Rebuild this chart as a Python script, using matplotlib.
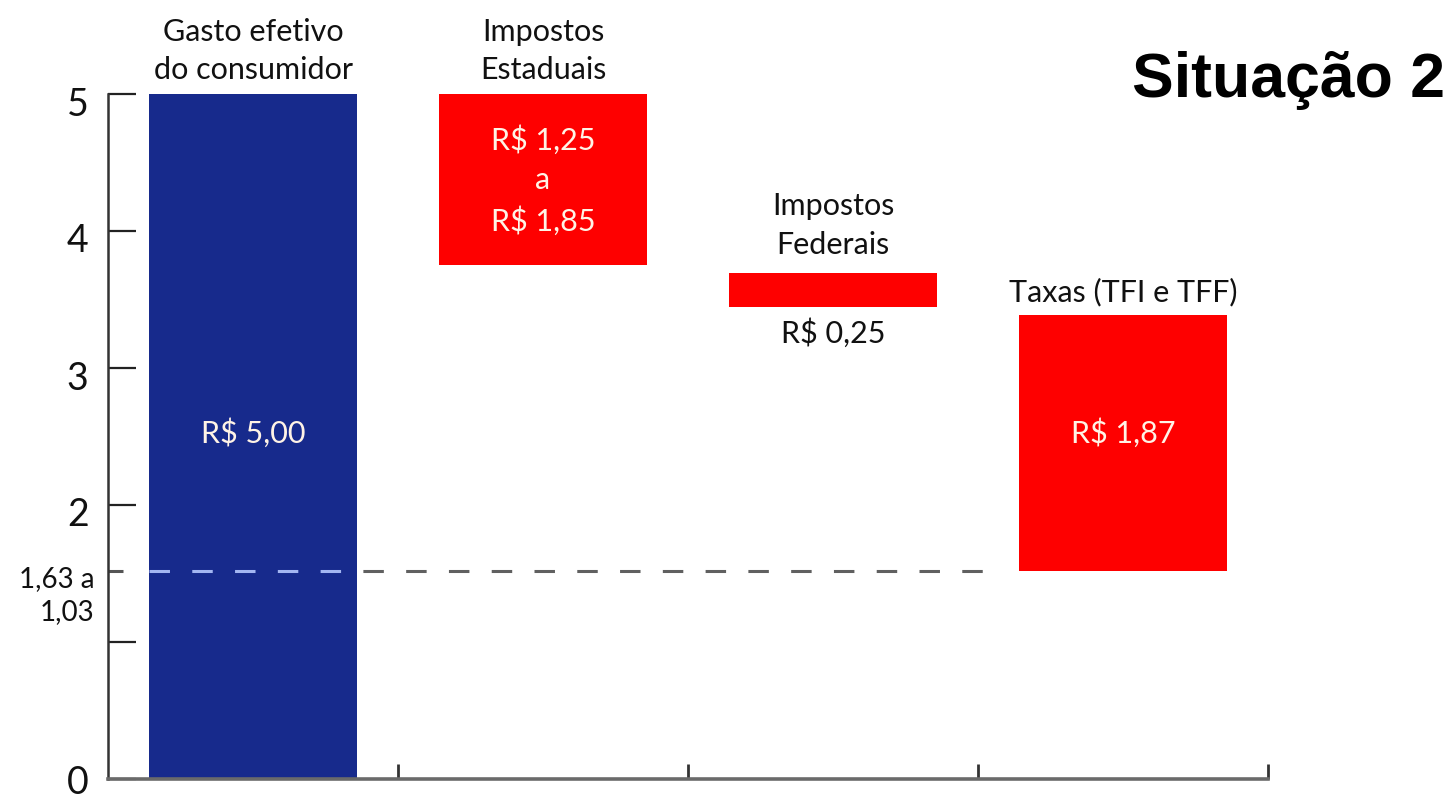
"""
Situação 2 — composição do gasto efetivo do consumidor (cascata).
Saída: out.png
"""

import numpy as np
import matplotlib.pyplot as plt
import matplotlib.transforms as mtransforms

# ── Dados ─────────────────────────────────────────────────────────────────────
CATEGORIAS = ["Gasto efetivo\ndo consumidor", "Impostos\nEstaduais",
              "Impostos\nFederais", "Taxas (TFI e TFF)"]
VALORES    = [5.00, 1.25, 0.25, 1.87]
ROTULOS    = ["R$ 5,00", "R$ 1,25\na\nR$ 1,85", "R$ 0,25", "R$ 1,87"]
Y_TICKS    = [0, 1, 2, 3, 4, 5]
Y_LABELS   = ["0", "", "2", "3", "4", "5"]
RESTO_LABEL = "1,63 a\n1,03"
TITULO     = "Situação 2"

# ── Estilo ────────────────────────────────────────────────────────────────────
AZUL     = "#172a8c"
VERMELHO = "#fe0000"
GAP      = 0.055        # folga visual entre degraus da cascata
LARGURA  = 0.72
FONTE    = "Lato"


def main():
    fig = plt.figure(figsize=(14.54, 8.03), dpi=100)
    ax = fig.add_axes([108 / 1454, 23 / 803, 1160 / 1454, 685 / 803])

    x = np.arange(len(VALORES))

    # topos e bases da cascata
    topos, bases = [], []
    nivel = VALORES[0]
    topos.append(VALORES[0]); bases.append(0.0)
    for i, v in enumerate(VALORES[1:]):
        topo = nivel if i == 0 else nivel - GAP
        topos.append(topo); bases.append(topo - v)
        nivel = topo - v
    alturas = np.array(topos) - np.array(bases)
    cores = [AZUL] + [VERMELHO] * (len(VALORES) - 1)

    barras = ax.bar(x, alturas, bottom=bases, width=LARGURA, color=cores,
                    edgecolor="none", zorder=2)

    resto = bases[-1]

    # linha tracejada do valor restante (clara sobre a barra azul)
    dash = (0, (6.7, 7.3))
    x0, x1 = x[0] - LARGURA / 2, x[-1] - LARGURA / 2 - 0.06
    ax.plot([x0, x1], [resto, resto], color="#606060", lw=2.2,
            linestyle=dash, zorder=1)
    claro, = ax.plot([x0, x1], [resto, resto], color="#a3b6f2", lw=2.2,
                     linestyle=dash, zorder=3)
    claro.set_clip_path(barras.patches[0])

    # rótulos das categorias
    txt = dict(family=FONTE, fontsize=22, color="#111111", ha="center",
               linespacing=1.45)
    ax.text(x[0], 5.0 + 0.08, CATEGORIAS[0], va="bottom", **txt,
            clip_on=False)
    ax.text(x[1], 5.0 + 0.08, CATEGORIAS[1], va="bottom", **txt,
            clip_on=False)
    ax.text(x[2], topos[2] + 0.11, CATEGORIAS[2], va="bottom", **txt)
    ax.text(x[3], topos[3] + 0.07, CATEGORIAS[3], va="bottom", **txt)
    ax.text(x[2], bases[2] - 0.07, ROTULOS[2], va="top", **txt)

    # rótulos dentro das barras
    dentro = dict(family=FONTE, fontsize=22, color="#fff3e6", ha="center",
                  va="center", linespacing=1.5, zorder=4)
    for i, dy in ((0, 0.03), (1, 0.0), (3, 0.08)):
        ax.text(x[i], bases[i] + alturas[i] / 2 + dy, ROTULOS[i], **dentro)

    # eixos
    ax.set_xlim(-0.5, 3.5)
    ax.set_ylim(0, 5)
    for lado in ("top", "right"):
        ax.spines[lado].set_visible(False)
    ax.spines["left"].set_color("#333333")
    ax.spines["left"].set_linewidth(1.8)
    ax.spines["bottom"].set_color("#6a6a6a")
    ax.spines["bottom"].set_linewidth(2.6)

    ax.set_xticks(x + 0.5)
    ax.set_xticklabels([])
    ax.tick_params(axis="x", direction="in", length=11, width=2,
                   color="#333333")

    ax.set_yticks(Y_TICKS, labels=Y_LABELS)
    ax.set_yticks([resto], labels=[RESTO_LABEL], minor=True)
    ax.tick_params(axis="y", which="major", direction="in", length=20,
                   width=1.6, color="#222222", pad=14, labelsize=27)
    ax.tick_params(axis="y", which="minor", direction="in", length=11,
                   width=2.2, color="#555555", pad=10, labelsize=20)
    for lab in ax.get_yticklabels() + ax.get_yticklabels(minor=True):
        lab.set_family(FONTE)
        lab.set_color("#111111")
        if lab.get_text() == "0":
            continue
        lab.set_transform(lab.get_transform() +
                          mtransforms.ScaledTranslation(0, -6 / 100,
                                                        fig.dpi_scale_trans))
    for lab in ax.get_yticklabels(minor=True):
        lab.set_linespacing(1.3)
        lab.set_transform(lab.get_transform() +
                          mtransforms.ScaledTranslation(0, -12 / 100,
                                                        fig.dpi_scale_trans))

    fig.text(1445 / 1454, 1 - 80 / 803, TITULO, family="Liberation Sans",
             fontweight="bold", fontsize=45, ha="right", va="center")

    fig.savefig("out.png", dpi=100)
    plt.close(fig)


if __name__ == "__main__":
    main()
